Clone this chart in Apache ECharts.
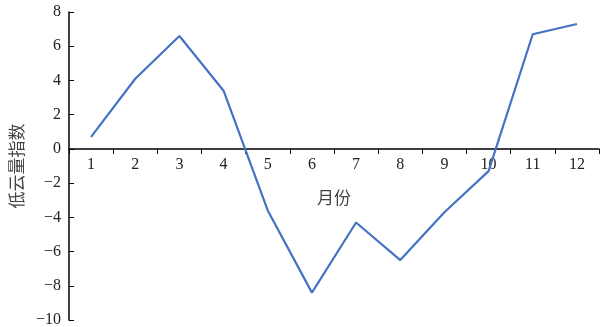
<!DOCTYPE html>
<html>
<head>
<meta charset="utf-8">
<script src="https://cdn.jsdelivr.net/npm/echarts@6/dist/echarts.min.js"></script>
<style>
  html, body { margin: 0; padding: 0; background: #fff; }
  #chart { width: 600px; height: 327px; }
</style>
</head>
<body>
<div id="chart"></div>
<script>
// months and low cloud index
var months = ['1', '2', '3', '4', '5', '6', '7', '8', '9', '10', '11', '12'];
var cloudIndex = [0.7, 4.1, 6.6, 3.4, -3.6, -8.4, -4.3, -6.5, -3.7, -1.3, 6.7, 7.3];

var yMin = -10, yMax = 8;
var gridTop = 12, gridBottom = 7;
var plotH = 327 - gridTop - gridBottom;
// move the x axis up to the zero line (labels go with it)
var zeroOffset = -plotH * (0 - yMin) / (yMax - yMin);

var chart = echarts.init(document.getElementById('chart'));

var option = {
  animation: false,
  grid: { left: 69, right: 1, top: gridTop, bottom: gridBottom, containLabel: false, outerBoundsMode: 'none' },
  xAxis: {
    type: 'category',
    data: months,
    position: 'bottom',
    offset: zeroOffset,
    name: '月份',
    nameLocation: 'middle',
    nameGap: 40,
    nameTextStyle: { fontFamily: 'Noto Sans CJK SC', fontSize: 17, color: '#444' },
    axisLine: { onZero: false, lineStyle: { color: '#000', width: 1.5 } },
    axisTick: { show: true, length: 5, lineStyle: { color: '#000' } },
    axisLabel: { fontFamily: 'Liberation Serif', fontSize: 16, color: '#222', margin: 8 }
  },
  yAxis: {
    type: 'value',
    min: yMin,
    max: yMax,
    interval: 2,
    name: '低云量指数',
    nameLocation: 'middle',
    nameGap: 43,
    nameTextStyle: { fontFamily: 'Noto Sans CJK SC', fontSize: 17, color: '#444' },
    splitLine: { show: false },
    axisLine: { show: true, lineStyle: { color: '#000', width: 1.5 } },
    axisTick: { show: true, inside: true, length: 5, lineStyle: { color: '#000' } },
    axisLabel: {
      fontFamily: 'Liberation Serif', fontSize: 16, color: '#222', margin: 8,
      formatter: function (v) { return v < 0 ? '\u2212' + Math.abs(v) : String(v); }
    }
  },
  series: [
    {
      type: 'line',
      data: cloudIndex,
      symbol: 'none',
      lineStyle: { color: '#4472C4', width: 2.2 }
    }
  ]
};

chart.setOption(option);
</script>
</body>
</html>
